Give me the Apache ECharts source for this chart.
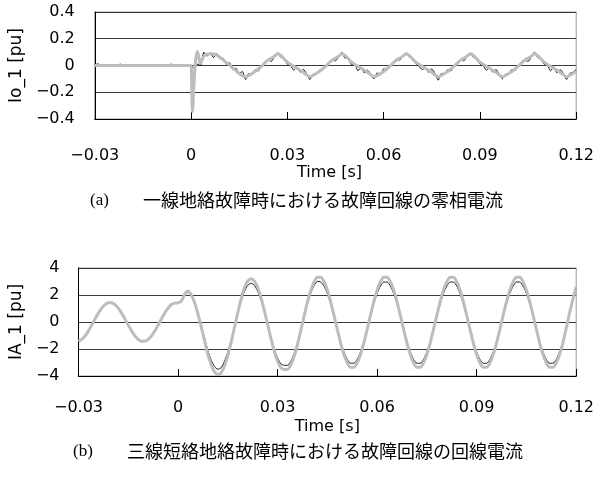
<!DOCTYPE html>
<html><head><meta charset="utf-8">
<script src="https://cdn.jsdelivr.net/npm/echarts@6/dist/echarts.min.js"></script>
<style>html,body{margin:0;padding:0;background:#fff}#c{width:597px;height:488px}</style>
</head><body><div id="c"></div>
<script>
// sampling grid of the recorded waveforms (1 ms)
const tStart = -0.03, tStep = 0.001;

const xTickLabels = ['−0.03', '0', '0.03', '0.06', '0.09', '0.12'];
const ioTickLabels = ['−0.4', '−0.2', '0', '0.2', '0.4'];
const iaTickLabels = ['−4', '−2', '0', '2', '4'];

const captionA = ['(a)', '一線地絡故障時における故障回線の零相電流'];
const captionB = ['(b)', '三線短絡地絡故障時における故障回線の回線電流'];

// (a) zero-sequence current, measured (black)
const ioMeasured = [
  0.005, 0.012, 0.0, 0.008, -0.004, 0.006, 0.0, 0.004, 0.01, -0.003,
  0.002, 0.0, 0.006, 0.0, -0.002, 0.003, 0.0, 0.005, 0.0, 0.002,
  -0.004, 0.0, 0.003, 0.006, 0.01, 0.0, 0.004, 0.008, 0.0, 0.005,
  0.0, -0.02, 0.01, 0.0, 0.1, 0.07, 0.095, 0.06, 0.09, 0.05,
  0.055, 0.01, 0.02, -0.03, -0.02, -0.06, -0.045, -0.105,
  -0.06, -0.07, -0.03, -0.04, 0.0, 0.01, 0.045, 0.03, 0.07, 0.095, 0.06, 0.055, 0.01, 0.0, -0.035, -0.01, -0.05, -0.03, -0.06, -0.105,
  -0.065, -0.06, -0.035, -0.03, 0.005, 0.015, 0.04, 0.035, 0.065, 0.1, 0.055, 0.06, 0.005, 0.01, -0.04, -0.015, -0.055, -0.035, -0.065, -0.1,
  -0.055, -0.07, -0.025, -0.035, 0.0, 0.02, 0.05, 0.04, 0.07, 0.095, 0.065, 0.05, 0.015, -0.005, -0.03, -0.02, -0.05, -0.025, -0.06, -0.11,
  -0.06, -0.065, -0.03, -0.04, 0.005, 0.01, 0.045, 0.035, 0.07, 0.09, 0.06, 0.055, 0.01, 0.0, -0.035, -0.015, -0.05, -0.03, -0.065, -0.1,
  -0.065, -0.06, -0.03, -0.035, 0.0, 0.015, 0.04, 0.03, 0.065, 0.1, 0.06, 0.05, 0.01, 0.005, -0.04, -0.01, -0.055, -0.03, -0.06, -0.105,
  -0.06, -0.05, -0.03
];
// (a) zero-sequence current, simulated (grey)
const ioSimulated = [
  0, 0, 0, 0, 0, 0, 0, 0, 0, 0,
  0, 0, 0, 0, 0, 0, 0, 0, 0, 0,
  0, 0, 0, 0, 0, 0, 0, 0, 0, 0,
  0, -0.1, 0.105, 0.02, 0.07, 0.085, 0.088, 0.086, 0.078, 0.062,
  0.042, 0.022, 0.002, -0.02, -0.04, -0.06, -0.078, -0.085,
  -0.075, -0.06, -0.045, -0.025, -0.005, 0.02, 0.04, 0.055, 0.07, 0.088, 0.075, 0.05, 0.025, 0.01, -0.005, -0.02, -0.035, -0.05, -0.07, -0.085,
  -0.075, -0.06, -0.045, -0.025, -0.005, 0.02, 0.04, 0.055, 0.07, 0.088, 0.075, 0.05, 0.025, 0.01, -0.005, -0.02, -0.035, -0.05, -0.07, -0.085,
  -0.075, -0.06, -0.045, -0.025, -0.005, 0.02, 0.04, 0.055, 0.07, 0.088, 0.075, 0.05, 0.025, 0.01, -0.005, -0.02, -0.035, -0.05, -0.07, -0.085,
  -0.075, -0.06, -0.045, -0.025, -0.005, 0.02, 0.04, 0.055, 0.07, 0.088, 0.075, 0.05, 0.025, 0.01, -0.005, -0.02, -0.035, -0.05, -0.07, -0.085,
  -0.075, -0.06, -0.045, -0.025, -0.005, 0.02, 0.04, 0.055, 0.07, 0.088, 0.075, 0.05, 0.025, 0.01, -0.005, -0.02, -0.035, -0.05, -0.07, -0.085,
  -0.075, -0.06, -0.045
];
// (a) fault-inception spike of the simulated trace, [time s, value pu]
const ioSimulatedSpike = [
  [0.0002, -0.15], [0.0004, -0.345], [0.0006, -0.3], [0.0008, -0.18],
  [0.0012, -0.02], [0.0016, 0.07], [0.0024, 0.07], [0.0028, 0.015], [0.0034, 0.04]
];

// (b) line current, measured (black)
const iaMeasured = [
  -1.43, -1.29, -1.03, -0.66, -0.23, 0.23, 0.66, 1.03, 1.29, 1.43,
  1.43, 1.29, 1.03, 0.66, 0.23, -0.23, -0.66, -1.03, -1.29, -1.43,
  -1.43, -1.29, -1.03, -0.66, -0.23, 0.23, 0.66, 1.03, 1.3, 1.4,
  1.42, 1.5, 1.95, 2.2, 1.93, 1.4, 0.64, -0.25, -1.19, -2.12,
  -2.83, -3.31, -3.5, -3.38, -2.92, -2.23, -1.35, -0.37, 0.62, 1.51,
  2.26, 2.71, 2.87, 2.72, 2.29, 1.61, 0.76, -0.19, -1.14, -1.99,
  -2.67, -3.1, -3.21, -3.21, -2.91, -2.33, -1.53, -0.59, 0.39, 1.33,
  2.13, 2.71, 3.01, 2.96, 2.67, 2.11, 1.33, 0.43, -0.53, -1.43,
  -2.21, -2.77, -3.06, -3.06, -2.77, -2.21, -1.43, -0.53, 0.43, 1.33,
  2.11, 2.67, 2.96, 2.96, 2.67, 2.11, 1.33, 0.43, -0.53, -1.43,
  -2.21, -2.77, -3.06, -3.06, -2.77, -2.21, -1.43, -0.53, 0.43, 1.33,
  2.11, 2.67, 2.96, 2.96, 2.67, 2.11, 1.33, 0.43, -0.53, -1.43,
  -2.21, -2.77, -3.06, -3.06, -2.77, -2.21, -1.43, -0.53, 0.43, 1.33,
  2.11, 2.67, 2.96, 2.96, 2.67, 2.11, 1.33, 0.43, -0.53, -1.43,
  -2.21, -2.77, -3.06, -3.06, -2.77, -2.21, -1.43, -0.4, 0.6, 1.6,
  2.45
];
// (b) line current, simulated (grey)
const iaSimulated = [
  -1.43, -1.29, -1.03, -0.66, -0.23, 0.23, 0.66, 1.03, 1.29, 1.43,
  1.43, 1.29, 1.03, 0.66, 0.23, -0.23, -0.66, -1.03, -1.29, -1.43,
  -1.43, -1.29, -1.03, -0.66, -0.23, 0.23, 0.66, 1.03, 1.3, 1.4,
  1.42, 1.55, 2.05, 2.3, 2.01, 1.43, 0.61, -0.37, -1.39, -2.4,
  -3.17, -3.7, -3.9, -3.76, -3.26, -2.49, -1.51, -0.41, 0.69, 1.69,
  2.52, 3.03, 3.2, 3.03, 2.56, 1.81, 0.87, -0.18, -1.22, -2.16,
  -2.91, -3.38, -3.51, -3.51, -3.17, -2.54, -1.67, -0.64, 0.44, 1.47,
  2.34, 2.97, 3.31, 3.31, 2.98, 2.36, 1.51, 0.5, -0.55, -1.56,
  -2.41, -3.03, -3.36, -3.36, -3.03, -2.41, -1.56, -0.55, 0.5, 1.51,
  2.36, 2.98, 3.31, 3.31, 2.98, 2.36, 1.51, 0.5, -0.55, -1.56,
  -2.41, -3.03, -3.36, -3.36, -3.03, -2.41, -1.56, -0.55, 0.5, 1.51,
  2.36, 2.98, 3.31, 3.31, 2.98, 2.36, 1.51, 0.5, -0.55, -1.56,
  -2.41, -3.03, -3.36, -3.36, -3.03, -2.41, -1.56, -0.55, 0.5, 1.51,
  2.36, 2.98, 3.31, 3.31, 2.98, 2.36, 1.51, 0.5, -0.55, -1.56,
  -2.41, -3.03, -3.36, -3.36, -3.03, -2.41, -1.56, -0.45, 0.65, 1.7,
  2.6
];

function timeOf(i) { return +(tStart + i * tStep).toFixed(4); }
function toPairs(vals) { return vals.map((v, i) => [timeOf(i), v]); }
function withExtra(vals, extra) {
  return toPairs(vals).concat(extra).sort((a, b) => a[0] - b[0]);
}

const FONT = 'DejaVu Sans';
const BLACK = '#111';
const GREY = '#bdbdbd';

function xAxisCfg(gridIndex, margin, nameGap) {
  return {
    type: 'value', gridIndex, min: -0.03, max: 0.12, interval: 0.03,
    name: 'Time [s]', nameLocation: 'middle', nameGap,
    nameTextStyle: { fontFamily: FONT, fontSize: 16, color: '#000', padding: gridIndex === 0 ? [0, 12, 0, 0] : [0, 0, 0, 0] },
    axisLine: { show: true, onZero: false, lineStyle: { color: '#000', width: 1 } },
    axisTick: { show: true, inside: true, length: 7, lineStyle: { color: '#000' } },
    splitLine: { show: false },
    axisLabel: {
      fontFamily: FONT, fontSize: 16, color: '#000', margin,
      formatter: v => xTickLabels[Math.round((v + 0.03) / 0.03)]
    }
  };
}
function yAxisCfg(gridIndex, name, min, max, interval, labels, nameGap, margin) {
  return {
    type: 'value', gridIndex, min, max, interval,
    name, nameLocation: 'middle', nameGap, nameRotate: 90,
    nameTextStyle: { fontFamily: FONT, fontSize: 17, color: '#000' },
    axisLine: { show: true, onZero: false, lineStyle: { color: '#000', width: 1 } },
    axisTick: { show: false },
    splitLine: { show: true, lineStyle: { color: '#3a3a3a', width: 1 } },
    axisLabel: {
      fontFamily: FONT, fontSize: 16, color: '#000', margin,
      formatter: v => labels[Math.round((v - min) / interval)]
    }
  };
}
function lineSeries(xi, data, color, width, z) {
  return {
    type: 'line', xAxisIndex: xi, yAxisIndex: xi, data, showSymbol: false, symbol: 'none',
    smooth: 0.2, lineStyle: { color, width }, z, animation: false
  };
}

const chart = echarts.init(document.getElementById('c'), null, { renderer: 'canvas' });
chart.setOption({
  animation: false,
  backgroundColor: '#fff',
  grid: [
    { left: 92, right: 19, top: 12, height: 107, show: true, borderColor: '#9a9a9a', borderWidth: 1, containLabel: false },
    { left: 77, right: 19, top: 268, height: 108, show: true, borderColor: '#9a9a9a', borderWidth: 1, containLabel: false }
  ],
  xAxis: [xAxisCfg(0, 29, 41), xAxisCfg(1, 24, 43)],
  yAxis: [
    yAxisCfg(0, 'Io_1 [pu]', -0.4, 0.4, 0.2, ioTickLabels, 67, 20),
    yAxisCfg(1, 'IA_1 [pu]', -4, 4, 2, iaTickLabels, 52, 19)
  ],
  series: [
    lineSeries(0, toPairs(ioMeasured), BLACK, 1, 2),
    lineSeries(0, withExtra(ioSimulated, ioSimulatedSpike), GREY, 3, 3),
    lineSeries(1, toPairs(iaMeasured), BLACK, 1, 2),
    lineSeries(1, toPairs(iaSimulated), GREY, 3, 3)
  ],
  graphic: [
    { type: 'text', left: 90, top: 192, style: { text: captionA[0], font: '17px "Liberation Serif"', fill: '#000' } },
    { type: 'text', left: 143, top: 191, style: { text: captionA[1], font: '18px "Noto Sans CJK JP"', fill: '#000' } },
    { type: 'text', left: 73, top: 443, style: { text: captionB[0], font: '17px "Liberation Serif"', fill: '#000' } },
    { type: 'text', left: 127, top: 442, style: { text: captionB[1], font: '18px "Noto Sans CJK JP"', fill: '#000' } }
  ]
});
</script></body></html>
